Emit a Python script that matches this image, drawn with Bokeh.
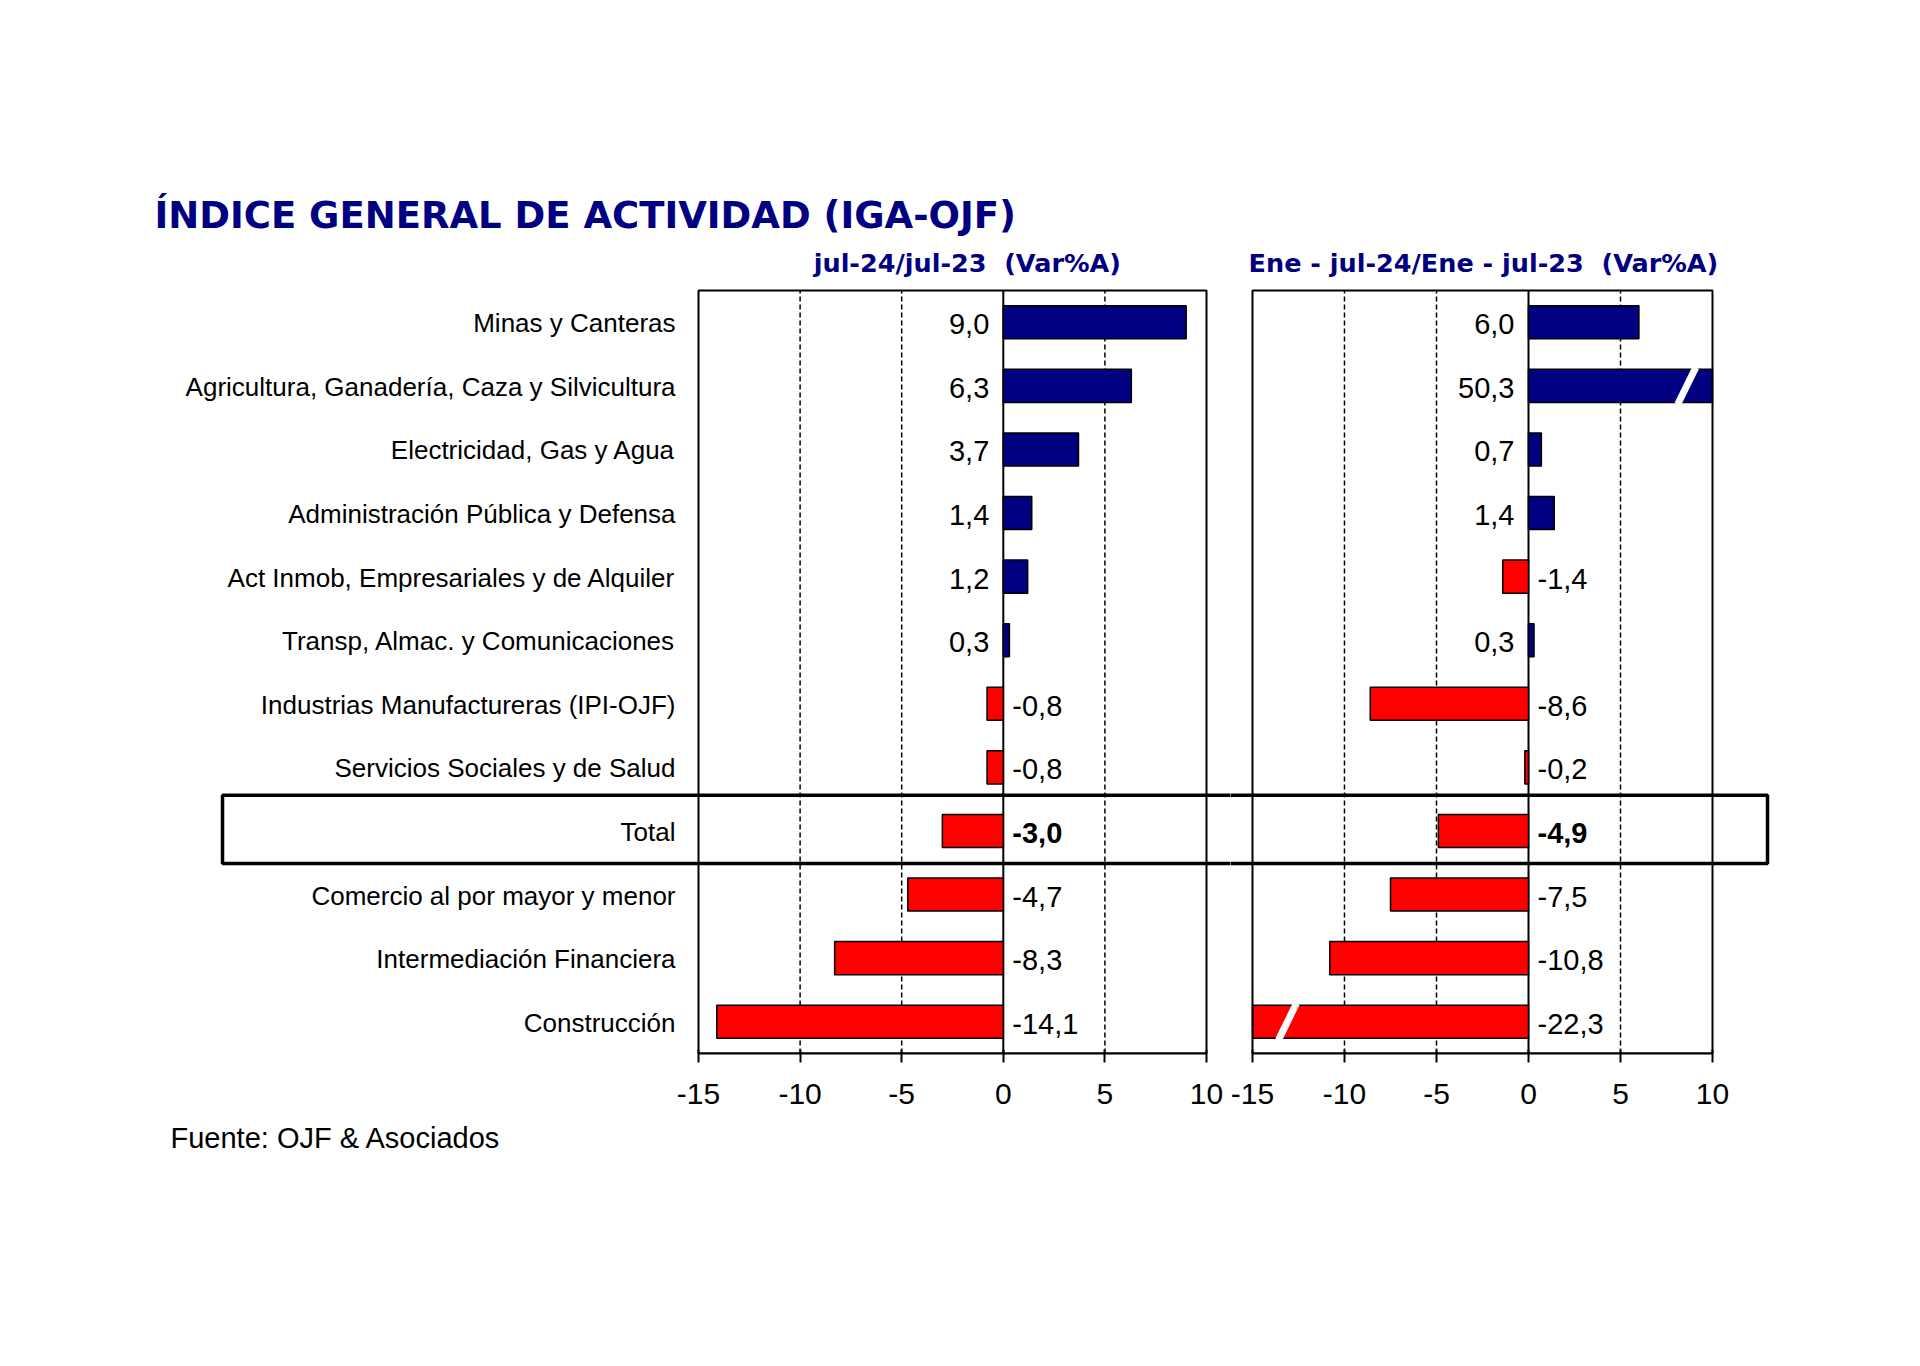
import numpy as np
from bokeh.plotting import figure
from bokeh.models import Range1d, FixedTicker, Title, ColumnDataSource
from bokeh.layouts import row
from bokeh.embed import file_html
from bokeh.resources import INLINE
from bokeh.core.properties import value

# ---------------- data ----------------
categories = [
    "Minas y Canteras",
    "Agricultura, Ganadería, Caza y Silvicultura",
    "Electricidad, Gas y Agua",
    "Administración Pública y Defensa",
    "Act Inmob, Empresariales y de Alquiler",
    "Transp, Almac. y Comunicaciones",
    "Industrias Manufactureras (IPI-OJF)",
    "Servicios Sociales y de Salud",
    "Total",
    "Comercio al por mayor y menor",
    "Intermediación Financiera",
    "Construcción",
]
var_jul = [9.0, 6.3, 3.7, 1.4, 1.2, 0.3, -0.8, -0.8, -3.0, -4.7, -8.3, -14.1]
var_ene_jul = [6.0, 50.3, 0.7, 1.4, -1.4, 0.3, -8.6, -0.2, -4.9, -7.5, -10.8, -22.3]
tick_values = [-15, -10, -5, 0, 5, 10]
tick_labels = ["-15", "-10", "-5", "0", "5", "10"]
grid_values = [-10, -5, 5]
total_label = "Total"

title_text = "ÍNDICE GENERAL DE ACTIVIDAD (IGA-OJF)"
sub_left = "jul-24/jul-23 \u00a0(Var%A)"
sub_right = "Ene - jul-24/Ene - jul-23 \u00a0(Var%A)"
source_text = "Fuente: OJF & Asociados"

# ---------------- style ----------------
NAVY = "#000080"
RED = "#FF0000"
AXIS_MIN, AXIS_MAX = -15, 10
N = len(categories)
ypos = [N - 0.5 - i for i in range(N)]
PITCH = 763 / 12.0
MB_TOP = 150
FRAME_H = 903
MB_BOTTOM = 150
HEIGHT = MB_TOP + FRAME_H + MB_BOTTOM
Y_END = FRAME_H / PITCH
BAR_H = 0.52
SANS = value("Liberation Sans")
HEAD = value("DejaVu Sans")


def fmt(v):
    return f"{v:.1f}".replace(".", ",")


def make_panel(vals, x_start, x_end, width, mb_left, mb_right, box_left, box_right,
               label_x=None, subtitle=None, sub_x=None, footer=False):
    p = figure(width=width, height=HEIGHT, output_backend="svg", toolbar_location=None,
               x_range=Range1d(x_start, x_end), y_range=Range1d(0, Y_END),
               y_axis_location=None, min_border_left=mb_left, min_border_right=mb_right,
               min_border_top=MB_TOP, min_border_bottom=MB_BOTTOM,
               background_fill_color="white", border_fill_color="white")
    p.outline_line_color = None
    p.xgrid.visible = False
    p.ygrid.visible = False

    ax = p.xaxis[0]
    ax.ticker = FixedTicker(ticks=tick_values)
    ax.major_label_overrides = {t: s for t, s in zip(tick_values, tick_labels)}
    ax.bounds = (AXIS_MIN, AXIS_MAX)
    ax.axis_line_width = 2
    ax.axis_line_color = "black"
    ax.major_tick_line_width = 2
    ax.major_tick_line_color = "black"
    ax.major_tick_in = 4
    ax.major_tick_out = 9
    ax.minor_tick_line_color = None
    ax.major_label_text_font = "Liberation Sans"
    ax.major_label_text_font_size = "30px"
    ax.major_label_text_color = "black"
    ax.major_label_standoff = 21

    # dashed grid lines and zero line
    p.segment(x0=grid_values, y0=[0] * len(grid_values), x1=grid_values,
              y1=[N] * len(grid_values), line_color="black", line_width=1.5,
              line_dash="5 3")
    p.segment(x0=[0], y0=[0], x1=[0], y1=[N], line_color="black", line_width=2)

    # bars (clipped to the axis range, as in the original)
    disp = list(np.clip(vals, AXIS_MIN, AXIS_MAX))
    colors = [NAVY if v >= 0 else RED for v in vals]
    src = ColumnDataSource(dict(y=ypos, right=disp, color=colors))
    p.hbar(y="y", left=0, right="right", height=BAR_H, fill_color="color",
           line_color="black", line_width=1.5, source=src)

    # break marks for values beyond the axis
    for v, y in zip(vals, ypos):
        if v > AXIS_MAX:
            xc = AXIS_MAX - 1.4
        elif v < AXIS_MIN:
            xc = AXIS_MIN + 1.9
        else:
            continue
        p.segment(x0=[xc - 0.49], y0=[y - BAR_H / 2 - 0.03], x1=[xc + 0.49],
                  y1=[y + BAR_H / 2 + 0.03], line_color="white", line_width=7,
                  line_cap="butt")

    # panel frame
    p.quad(left=[AXIS_MIN], right=[AXIS_MAX], bottom=[0], top=[N], fill_color=None,
           line_color="black", line_width=2)

    # value labels
    pos = [(y, fmt(v), c) for y, v, c in zip(ypos, vals, categories) if v >= 0]
    neg = [(y, fmt(v), c) for y, v, c in zip(ypos, vals, categories) if v < 0]
    for group, align, off in ((pos, "right", -14), (neg, "left", 9)):
        normal = [g for g in group if g[2] != total_label]
        bold = [g for g in group if g[2] == total_label]
        for items, style in ((normal, "normal"), (bold, "bold")):
            if not items:
                continue
            p.text(x=[0] * len(items), y=[g[0] for g in items], text=[g[1] for g in items],
                   x_offset=off, y_offset=2, text_align=align, text_baseline="middle",
                   text_font=SANS, text_font_size="29px", text_font_style=style,
                   text_color="black")

    # Total highlight box (continues across both panels)
    ti = categories.index(total_label)
    ty = ypos[ti]
    p.quad(left=[box_left], right=[box_right], bottom=[ty - 0.51], top=[ty + 0.56],
           fill_color=None, line_color="black", line_width=3.5)

    if label_x is not None:
        p.text(x=[label_x] * N, y=ypos, text=categories, x_offset=-23, y_offset=1,
               text_align="right", text_baseline="middle", text_font=SANS,
               text_font_size="26px", text_color="black")

    if subtitle is not None:
        p.text(x=[sub_x], y=[12.43], text=[subtitle], text_align="center",
               text_baseline="alphabetic", text_font=HEAD, text_font_style="bold",
               text_font_size="25.5px", text_color=NAVY)

    if footer:
        p.add_layout(Title(text=source_text, align="left", offset=25,
                           text_font="Liberation Sans", text_font_size="29px",
                           text_font_style="normal", text_color="black", standoff=26),
                     "below")
    return p


left = make_panel(var_jul, -42.215, 11.181, 1230, 145, 0, -38.425, 30,
                  label_x=AXIS_MIN, subtitle=sub_left, sub_x=-1.77, footer=True)
left.text(x=[-41.77], y=[13.18], text=[title_text], text_align="left",
          text_baseline="alphabetic", text_font=HEAD, text_font_style="bold",
          text_font_size="37px", text_color=NAVY)

right = make_panel(var_ene_jul, -16.196, 13.424, 565, 0, 20, -40, 12.99,
                   subtitle=sub_right, sub_x=-2.45)

layout = row(left, right, spacing=0)
open("out.html", "w").write(file_html(layout, INLINE))
